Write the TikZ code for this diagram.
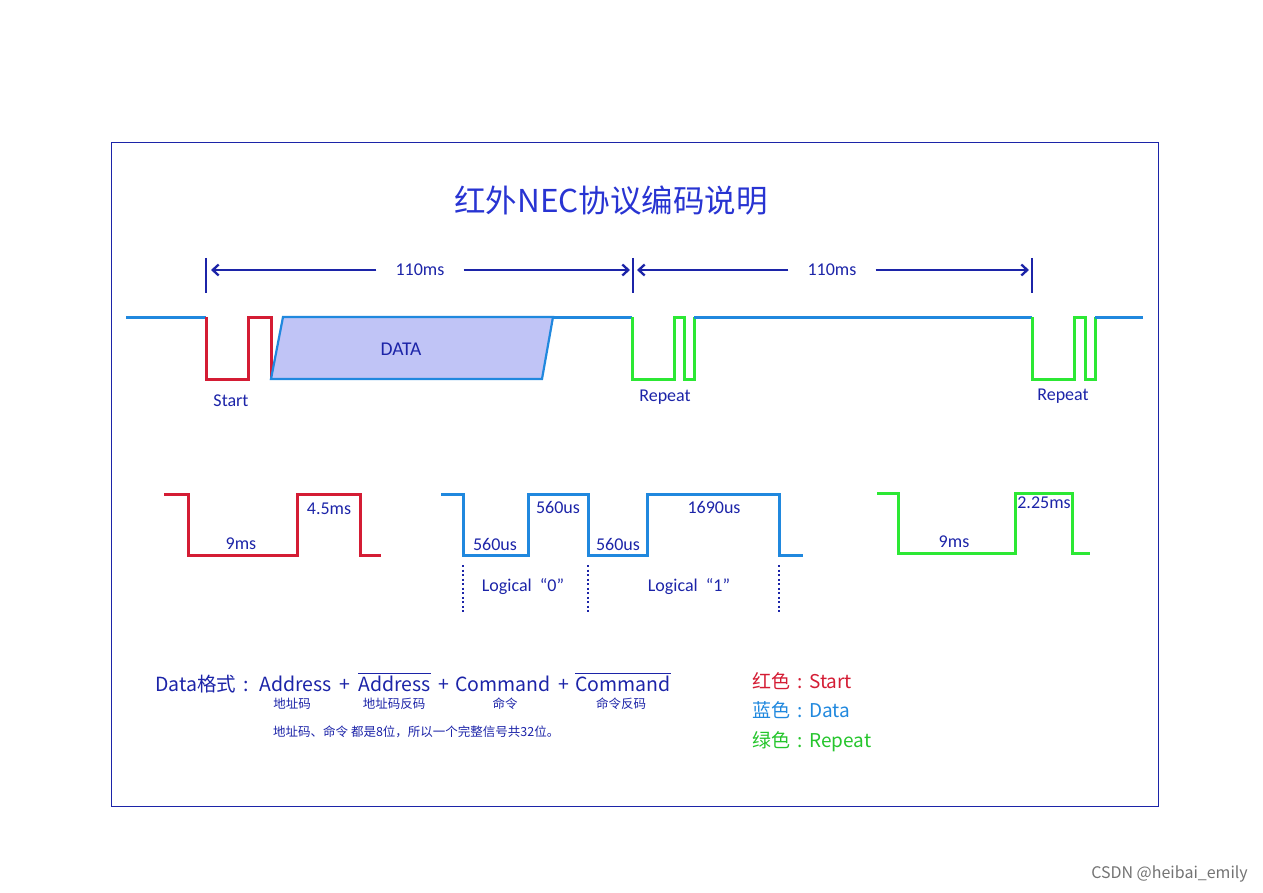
\documentclass[tikz,border=0pt]{standalone}
\usepackage{fontspec}
\setmainfont{Noto Sans CJK SC}
\newfontfamily\latfont{Carlito}
\usetikzlibrary{arrows.meta}

\definecolor{navy}{RGB}{28,36,168}
\definecolor{titleblue}{RGB}{40,52,210}
\definecolor{sigblue}{RGB}{32,136,222}
\definecolor{sigred}{RGB}{212,28,52}
\definecolor{siggreen}{RGB}{44,232,52}
\definecolor{datafill}{RGB}{192,196,246}

\newcommand{\wcolon}{\makebox[1em]{:}}

\tikzset{
    wave/.style={line width=3pt, line join=miter},
    blueline/.style={wave, sigblue},
    redline/.style={wave, sigred},
    greenline/.style={wave, siggreen},
    lbl/.style={font=\latfont\fontsize{18}{20}\selectfont, text=navy, inner sep=0pt},
    dimlbl/.style={lbl, inner xsep=19pt},
    dimbar/.style={navy, line width=2.6pt},
    dimline/.style={navy, line width=2.3pt, -{Straight Barb[length=6pt,width=11pt]}},
    fmt/.style={font=\fontsize{19.5}{22}\selectfont, text=navy, inner sep=0pt, anchor=base west},
    sub/.style={font=\fontsize{12.5}{14}\selectfont, text=navy, inner sep=0pt},
    legend/.style={font=\fontsize{19}{21}\selectfont, inner sep=0pt, anchor=west},
}

\begin{document}
\begin{tikzpicture}[x=1pt, y=-1pt]
    \useasboundingbox (0,0) rectangle (1263,893);

    % Frame and title
    \draw[navy, line width=1pt] (111,143) rectangle (1158,806);
    \node[font=\fontsize{31.5}{34}\selectfont, text=titleblue] (title) at (611,201) {红外NEC协议编码说明};

    % Frame length marks
    \coordinate (m0) at (206,270);
    \coordinate (m1) at (633,270);
    \coordinate (m2) at (1032,270);
    \foreach \m in {m0,m1,m2}
        \draw[dimbar] (\m) ++(0,-12) -- ++(0,35);
    \node[dimlbl] (len1) at (420,270) {110ms};
    \node[dimlbl] (len2) at (832,270) {110ms};
    \draw[dimline] (len1) -- ([xshift=5pt]m0);
    \draw[dimline] (len1) -- ([xshift=-3pt]m1);
    \draw[dimline] (len2) -- ([xshift=4pt]m1);
    \draw[dimline] (len2) -- ([xshift=-3pt]m2);

    % Whole frame: start, data, repeats
    \draw[blueline] (126,317) -- (206,317);
    \draw[redline] (206,317) -- (206,379) -- (248,379) -- (248,317) -- (271,317) -- (271,379);
    \draw[sigblue, line width=2.2pt, fill=datafill, line join=miter]
        (271,379) -- (283,317) -- (553,317) -- (542,379) -- cycle;
    \node[lbl, font=\latfont\fontsize{19.5}{21}\selectfont] (data) at (401,349) {DATA};
    \draw[blueline] (553,317) -- (632,317);
    \draw[greenline] (632,317) -- (632,379) -- (674,379) -- (674,317) -- (684,317) -- (684,379) -- (694,379) -- (694,317);
    \draw[blueline] (694,317) -- (1032,317);
    \draw[greenline] (1032,317) -- (1032,379) -- (1074,379) -- (1074,317) -- (1085,317) -- (1085,379) -- (1095,379) -- (1095,317);
    \draw[blueline] (1095,317) -- (1143,317);
    \node[lbl] (start) at (231,401) {Start};
    \node[lbl] (rep1) at (665,397) {Repeat};
    \node[lbl] (rep2) at (1063,396) {Repeat};

    % Start pulse
    \draw[redline] (164,494) -- (188,494) -- (188,555) -- (297,555) -- (297,494) -- (360,494) -- (360,555) -- (381,555);
    \node[lbl] (t9ms) at (241,544) {9ms};
    \node[lbl] (t45ms) at (329,509) {4.5ms};

    % Logical 0 and 1
    \draw[blueline] (441,494) -- (463,494) -- (463,555) -- (528,555) -- (528,494) -- (588,494) -- (588,555) -- (647,555) -- (647,494) -- (779,494) -- (779,555) -- (803,555);
    \node[lbl] (low0) at (495,544) {560us};
    \node[lbl] (high0) at (558,507) {560us};
    \node[lbl] (low1) at (618,544) {560us};
    \node[lbl] (high1) at (714,507) {1690us};
    \foreach \x in {463,588,779}
        \draw[navy, line width=1.6pt, dash pattern=on 2pt off 2.5pt] (\x,565) -- (\x,613);
    \node[lbl] (logic0) at (523,587) {Logical\ \ “0”};
    \node[lbl] (logic1) at (689,587) {Logical\ \ “1”};

    % Repeat pulse
    \draw[greenline] (877,493) -- (898,493) -- (898,553) -- (1015,553) -- (1015,493) -- (1072,493) -- (1072,553) -- (1090,553);
    \node[lbl] (r9ms) at (954,542) {9ms};
    \node[lbl] (r225ms) at (1044,503) {2.25ms};

    % Data format
    \node[fmt] (dfmt) at (155,691) {Data格式\wcolon};
    \node[fmt] (addr) at (259,691) {Address};
    \node[fmt] (plus1) at (339,691) {+};
    \node[fmt] (naddr) at (358,691) {Address};
    \node[fmt] (plus2) at (438,691) {+};
    \node[fmt] (cmd) at (455,691) {Command};
    \node[fmt] (plus3) at (558,691) {+};
    \node[fmt] (ncmd) at (575,691) {Command};
    \draw[navy, line width=1.2pt] ([yshift=2pt]naddr.north west) -- ([yshift=2pt]naddr.north east);
    \draw[navy, line width=1.2pt] ([yshift=2pt]ncmd.north west) -- ([yshift=2pt]ncmd.north east);
    \node[sub] (addrsub) at (292,704) {地址码};
    \node[sub] (naddrsub) at (394,704) {地址码反码};
    \node[sub] (cmdsub) at (505,704) {命令};
    \node[sub] (ncmdsub) at (621,704) {命令反码};
    \node[sub, anchor=west] (note) at (273,732) {地址码、命令 都是8位，所以一个完整信号共32位。};

    % Colour legend
    \node[legend, text=sigred] (legred) at (752,681) {红色\wcolon Start};
    \node[legend, text=sigblue] (legblue) at (752,710) {蓝色\wcolon Data};
    \node[legend, text=siggreen!85!black] (leggreen) at (752,742) {绿色\wcolon Repeat};

    % Watermark
    \node[font=\fontsize{16}{18}\selectfont, text=black!55, anchor=east, inner sep=0pt] (mark) at (1248,874) {CSDN @heibai\_emily};
\end{tikzpicture}
\end{document}
